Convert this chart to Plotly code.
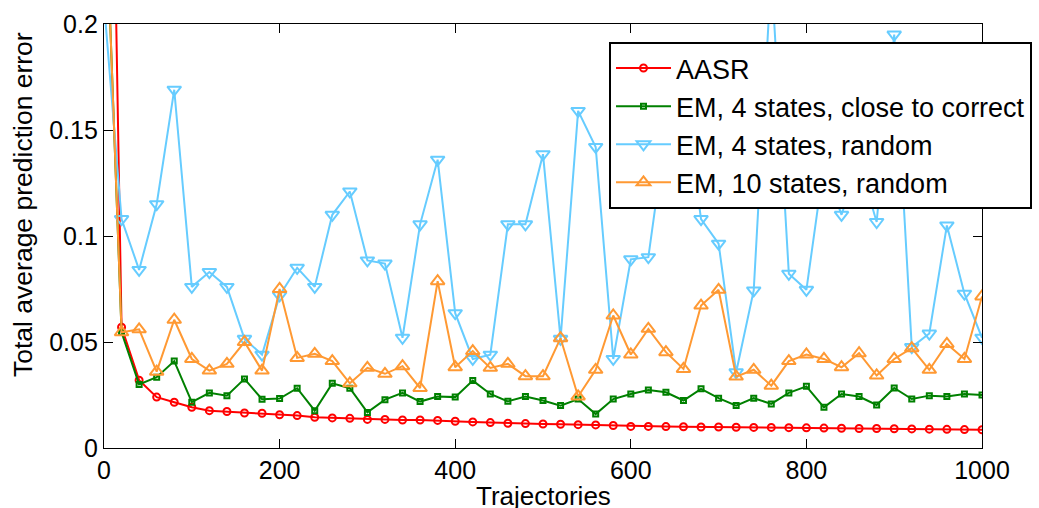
import plotly.graph_objects as go

trajectories = list(range(0, 1001, 20))

aasr = [0.53, 0.057, 0.032, 0.024, 0.0216, 0.0192, 0.0176, 0.0172, 0.0165, 0.0164,
        0.0157, 0.0153, 0.0145, 0.0142, 0.0140, 0.0135, 0.0135, 0.0132, 0.0132, 0.0130,
        0.0126, 0.0123, 0.0120, 0.0117, 0.0115, 0.0113, 0.0112, 0.0110, 0.0109, 0.0106,
        0.0102, 0.0102, 0.0101, 0.0100, 0.0099, 0.0099, 0.0098, 0.0097, 0.0097, 0.0096,
        0.0095, 0.0094, 0.0093, 0.0092, 0.0092, 0.0091, 0.0090, 0.0089, 0.0088, 0.0087,
        0.0086]

em4_close = [0.28, 0.0546, 0.030, 0.0334, 0.041, 0.0216, 0.026, 0.0247, 0.0326, 0.023,
             0.0233, 0.0282, 0.0176, 0.0305, 0.0282, 0.0168, 0.0228, 0.026, 0.0219, 0.0243,
             0.024, 0.0318, 0.0255, 0.022, 0.0243, 0.0224, 0.020, 0.0231, 0.016, 0.0231,
             0.0255, 0.0274, 0.0263, 0.0224, 0.0279, 0.0235, 0.020, 0.0235, 0.0208, 0.026,
             0.0291, 0.0192, 0.0255, 0.0243, 0.0203, 0.0283, 0.0231, 0.0247, 0.0243, 0.0255,
             0.025]

em4_random = [0.21, 0.108, 0.084, 0.115, 0.169, 0.076, 0.083, 0.076, 0.0515, 0.044,
              0.072, 0.085, 0.076, 0.110, 0.121, 0.0885, 0.087, 0.052, 0.1055, 0.136,
              0.0636, 0.042, 0.044, 0.1055, 0.1055, 0.1386, 0.0515, 0.159, 0.142, 0.042,
              0.089, 0.090, 0.150, 0.170, 0.108, 0.0964, 0.0357, 0.0743, 0.2245, 0.0822,
              0.0746, 0.134, 0.110, 0.135, 0.1066, 0.1950, 0.0476, 0.054, 0.105, 0.0728,
              0.052]

em10_random = [0.28, 0.0546, 0.056, 0.036, 0.0605, 0.042, 0.0365, 0.0397, 0.050, 0.0365,
               0.075, 0.0425, 0.0444, 0.041, 0.0305, 0.0378, 0.035, 0.0386, 0.0283, 0.0787,
               0.0381, 0.0457, 0.0378, 0.0397, 0.0339, 0.0339, 0.0518, 0.0243, 0.0369, 0.0625,
               0.0441, 0.0562, 0.0452, 0.0373, 0.0672, 0.0746, 0.0337, 0.0369, 0.0294, 0.041,
               0.0441, 0.042, 0.0381, 0.0447, 0.0342, 0.042, 0.0471, 0.0369, 0.0491, 0.042,
               0.0715]

x_ticks = [0, 200, 400, 600, 800, 1000]
y_ticks = [0, 0.05, 0.1, 0.15, 0.2]
y_tick_labels = ["0", "0.05", "0.1", "0.15", "0.2"]

FONT = "Liberation Sans, Arial, Helvetica, sans-serif"

series = [
    ("AASR", aasr, "#FF0000", "circle-open", 7),
    ("EM, 4 states, close to correct", em4_close, "#008000", "square-open", 5),
    ("EM, 4 states, random", em4_random, "#66CCFF", "triangle-down-open", 12),
    ("EM, 10 states, random", em10_random, "#FF9933", "triangle-up-open", 12),
]

fig = go.Figure()
for name, ys, color, symbol, size in series:
    fig.add_trace(go.Scatter(
        x=trajectories, y=ys, name=name, mode="lines+markers",
        line=dict(color=color, width=2),
        marker=dict(symbol=symbol, size=size, color=color, line=dict(color=color, width=2)),
    ))

fig.update_layout(
    width=1039, height=508,
    margin=dict(l=104, r=57, t=24, b=60, autoexpand=False),
    paper_bgcolor="white", plot_bgcolor="white",
    font=dict(family=FONT, size=25, color="black"),
    showlegend=True,
    legend=dict(
        x=(609 - 104) / 878, y=(448 - 42) / 424, xanchor="left", yanchor="top",
        bgcolor="white", bordercolor="black", borderwidth=2,
        font=dict(family=FONT, size=27, color="black"),
        itemwidth=55, tracegroupgap=0,
    ),
    xaxis=dict(
        range=[0, 1000], tickvals=x_ticks, ticks="inside", ticklen=9, tickwidth=1,
        tickcolor="black", showline=True, linecolor="black", linewidth=1.3,
        mirror="ticks", showgrid=False, zeroline=False,
        tickfont=dict(family=FONT, size=25, color="black"),
    ),
    yaxis=dict(
        range=[0, 0.2], tickvals=y_ticks, ticktext=y_tick_labels, ticks="inside",
        ticklen=9, tickwidth=1, tickcolor="black", showline=True, linecolor="black",
        linewidth=1.3, mirror="ticks", showgrid=False, zeroline=False,
        tickfont=dict(family=FONT, size=25, color="black"),
    ),
    annotations=[
        dict(text="Trajectories", xref="paper", yref="paper", x=0.5, y=-(479 - 448) / 424,
             xanchor="center", yanchor="top", showarrow=False,
             font=dict(family=FONT, size=26, color="black")),
        dict(text="Total average prediction error", xref="paper", yref="paper",
             x=-(104 - 23) / 878, y=(448 - 205) / 424, xanchor="center", yanchor="middle",
             textangle=-90, showarrow=False,
             font=dict(family=FONT, size=26.5, color="black")),
    ],
)

fig.write_html("out.html")
